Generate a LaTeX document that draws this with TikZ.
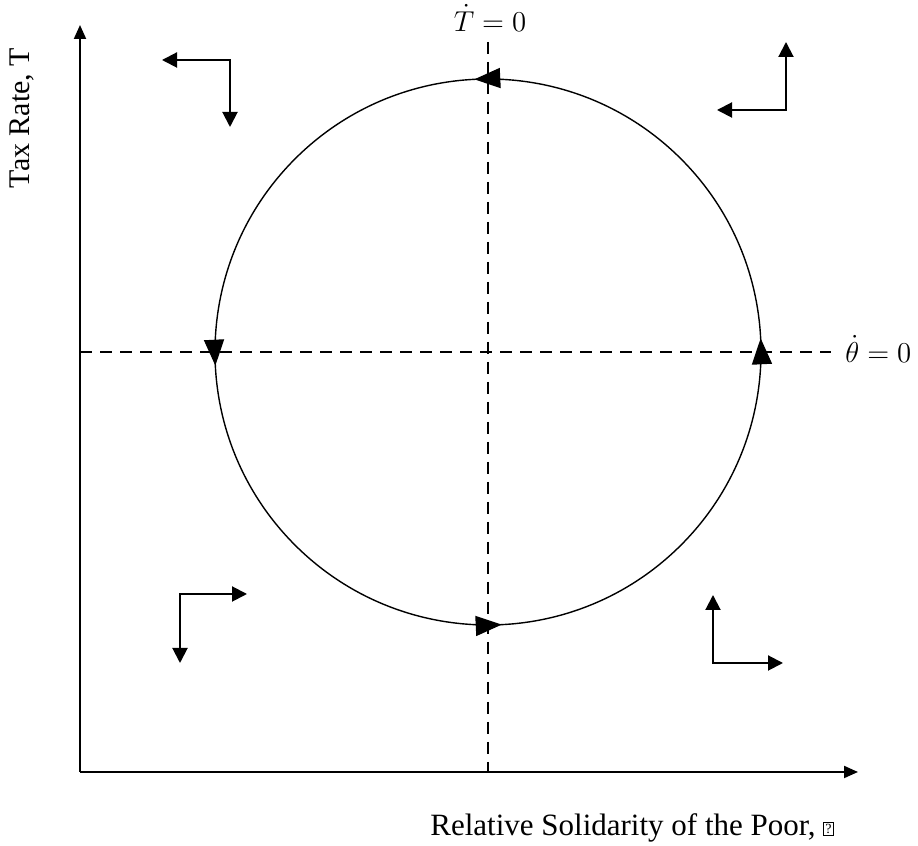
\documentclass[tikz,border=0pt]{standalone}
\usepackage{fontspec}
\setmainfont{Liberation Serif}
\usepackage{tikz}
\usetikzlibrary{arrows.meta,decorations.markings}

\begin{document}
\begin{tikzpicture}[
    x=0.5pt, y=0.5pt,
    axis/.style={-{Triangle[length=7pt,width=6pt]}, line width=1pt},
    nullcline/.style={line width=0.7pt, dash pattern=on 6pt off 4pt},
    flow/.style={{Triangle[length=7.5pt,width=7.5pt]}-{Triangle[length=7.5pt,width=7.5pt]}, line width=1pt},
    orbit/.style={line width=0.7pt, postaction={decorate}, decoration={markings,
        mark=at position 0.133 with {\arrow{Triangle[length=13pt,width=10pt]}},
        mark=at position 0.383 with {\arrow{Triangle[length=13pt,width=10pt]}},
        mark=at position 0.633 with {\arrow{Triangle[length=13pt,width=10pt]}},
        mark=at position 0.883 with {\arrow{Triangle[length=13pt,width=10pt]}}}},
    lbl/.style={inner sep=0pt, font=\fontsize{14}{17}\selectfont},
    bigl/.style={inner sep=0pt, font=\fontsize{15.5}{18}\selectfont},
]
\useasboundingbox (0,0) rectangle (918,846);

% axes
\coordinate (origin) at (80,74);
\coordinate (ytop) at (80,821);
\coordinate (xend) at (858,74);
\draw[axis] (origin) -- (ytop);
\draw[axis] (origin) -- (xend);

% nullclines
\coordinate (vtop) at (488,804);
\coordinate (vbot) at (488,74);
\coordinate (hleft) at (80,494);
\coordinate (hright) at (831,494);
\draw[nullcline] (vtop) -- (vbot);
\draw[nullcline] (hleft) -- (hright);

% cycle
\coordinate (ctr) at (488,494);
\draw[orbit] (ctr) ++(-45:273) arc[start angle=-45, end angle=315, radius=273];

% direction arrows
\coordinate (tlC) at (230,786); \coordinate (tlW) at (162,786); \coordinate (tlS) at (230,719);
\coordinate (trC) at (786,736); \coordinate (trN) at (786,804); \coordinate (trW) at (717,736);
\coordinate (blC) at (180,252); \coordinate (blE) at (247,252); \coordinate (blS) at (180,183);
\coordinate (brC) at (713,183); \coordinate (brN) at (713,251); \coordinate (brE) at (783,183);
\draw[flow] (tlW) -- (tlC) -- (tlS);
\draw[flow] (trN) -- (trC) -- (trW);
\draw[flow] (blE) -- (blC) -- (blS);
\draw[flow] (brN) -- (brC) -- (brE);

% labels
\node[lbl] (tdot) at (490,828) {$\dot{T}=0$};
\node[lbl, anchor=west, font=\fontsize{15}{18}\selectfont] (thdot) at (845,497) {$\dot{\theta}=0$};
\node[bigl, rotate=90, font=\fontsize{15}{18}\selectfont] (ylab) at (22,728) {Tax Rate, T};
\node[bigl] (xlab) at (632,18) {Relative Solidarity of the Poor, {\setlength\fboxsep{0.6pt}\setlength\fboxrule{0.4pt}\raisebox{1pt}{\fbox{\fontsize{7}{7}\selectfont ?}}}};
\end{tikzpicture}
\end{document}
